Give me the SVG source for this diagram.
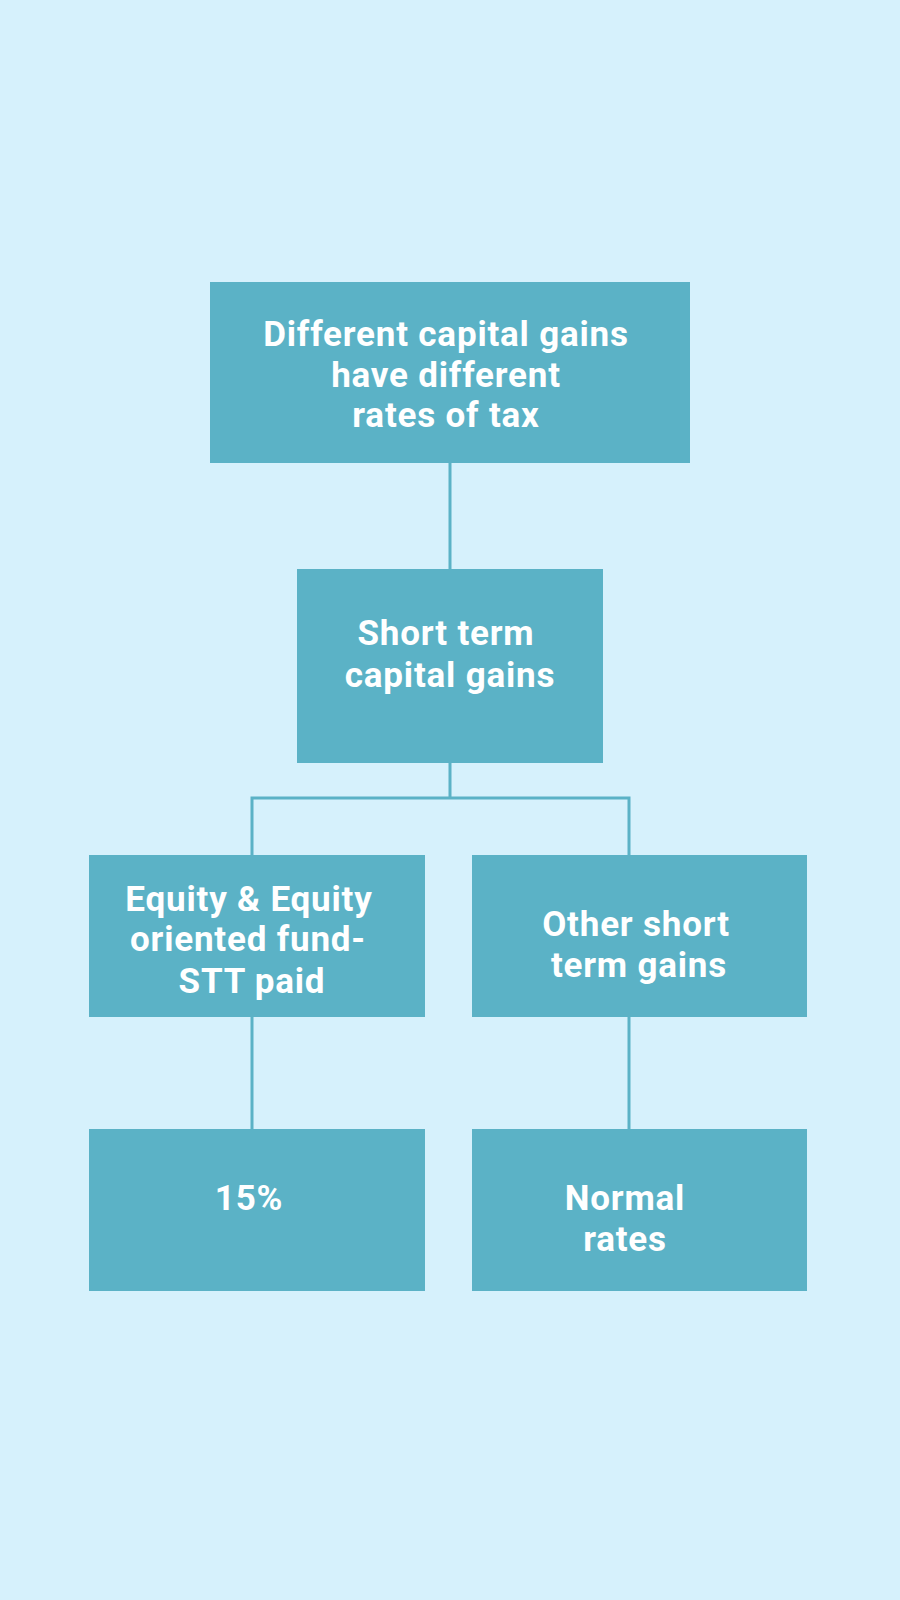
<svg xmlns="http://www.w3.org/2000/svg" width="900" height="1600" viewBox="0 0 900 1600">
<style>
.box{fill:#5bb2c6;}
.lbl{font-family:Roboto,"Liberation Sans",sans-serif;font-weight:700;font-size:35px;fill:#ffffff;text-anchor:middle;letter-spacing:0.8px;}
.conn{stroke:#5bb2c6;stroke-width:3;fill:none;}
</style>
<rect x="0" y="0" width="900" height="1600" fill="#d6f1fc"/>
<g id="connectors">
<line class="conn" x1="450" y1="463" x2="450" y2="569"/>
<path class="conn" d="M450 763 V798 M252 798 H629 M252 796.5 V855 M629 796.5 V855"/>
<line class="conn" x1="252" y1="1017" x2="252" y2="1129"/>
<line class="conn" x1="629" y1="1017" x2="629" y2="1129"/>
</g>
<g id="n-root">
<rect class="box" x="210" y="282" width="480" height="181"/>
<text class="lbl" x="446" y="346">Different capital gains</text>
<text class="lbl" x="446" y="387">have different</text>
<text class="lbl" x="446" y="427">rates of tax</text>
</g>
<g id="n-stcg">
<rect class="box" x="297" y="569" width="306" height="194"/>
<text class="lbl" x="446" y="645">Short term</text>
<text class="lbl" x="450" y="687">capital gains</text>
</g>
<g id="n-equity">
<rect class="box" x="89" y="855" width="336" height="162"/>
<text class="lbl" x="249" y="911">Equity &amp; Equity</text>
<text class="lbl" x="248" y="951">oriented fund-</text>
<text class="lbl" x="252" y="993">STT paid</text>
</g>
<g id="n-other">
<rect class="box" x="472" y="855" width="335" height="162"/>
<text class="lbl" x="636" y="936">Other short</text>
<text class="lbl" x="639" y="977">term gains</text>
</g>
<g id="n-15">
<rect class="box" x="89" y="1129" width="336" height="162"/>
<text class="lbl" x="249" y="1210">15%</text>
</g>
<g id="n-normal">
<rect class="box" x="472" y="1129" width="335" height="162"/>
<text class="lbl" x="625" y="1210">Normal</text>
<text class="lbl" x="625" y="1251">rates</text>
</g>
</svg>
